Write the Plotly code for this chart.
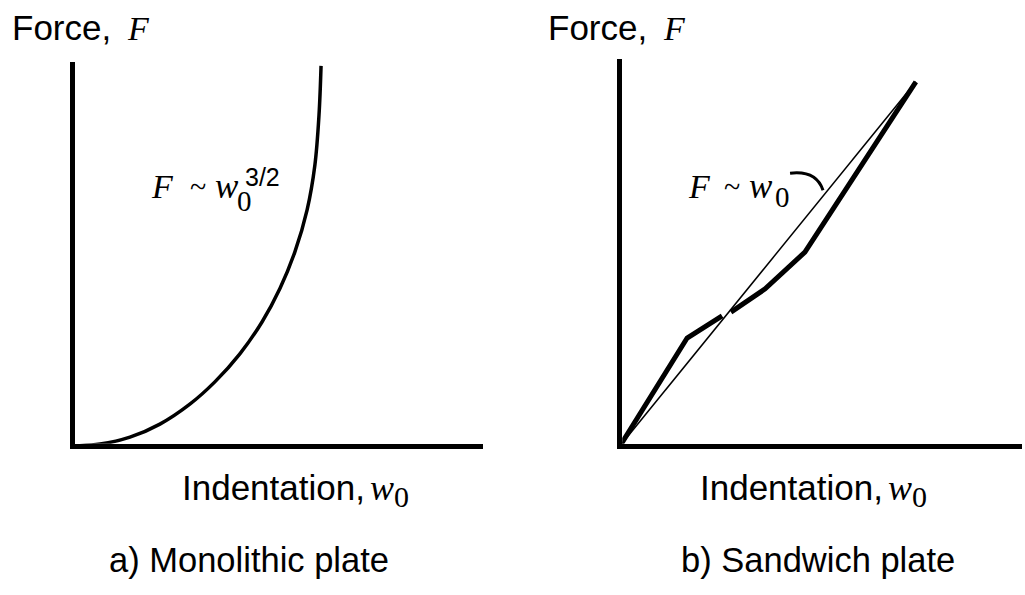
import plotly.graph_objects as go

W, H = 1025, 595

# ---- data (arbitrary units, 0..10 on both axes) ----
# a) monolithic plate: force grows ~ w0^(3/2)
mono_w = [0, 0.66, 1.39, 2.12, 2.85, 3.46, 4.07, 4.61, 5.05, 5.41, 5.71, 5.90, 6.00, 6.05]
mono_F = [0, 0.05, 0.23, 0.57, 1.09, 1.67, 2.40, 3.23, 4.11, 5.05, 6.15, 7.32, 8.62, 9.90]

# b) sandwich plate: measured response (broken where the reference line crosses)
sand_w = [0, 1.67, 2.54, None, 2.76, 3.61, 4.60, 7.36]
sand_F = [0, 2.79, 3.36, None, 3.46, 4.06, 5.01, 9.41]

# linear reference F ~ w0
lin_w = [0, 7.36]
lin_F = [0, 9.41]

SANS = "Liberation Sans, Arial, Helvetica, sans-serif"
SERIF = "Liberation Serif, Times New Roman, serif"
AXIS_LW = 4.5


def frame(x0, x1, y0, y1, lw=AXIS_LW):
    """Axis placement from the pixel positions of the axis lines
    (x0: vertical line, y0: horizontal line, x1/y1: line ends)."""
    left = x0 + lw / 2
    bottom = y0 - lw / 2
    sx = (x1 - x0) / 10.0
    sy = (y0 - y1) / 10.0
    xa = dict(domain=[left / W, x1 / W], range=[(lw / 2) / sx, 10],
              showline=True, linewidth=lw, linecolor="black",
              showgrid=False, zeroline=False, showticklabels=False, ticks="")
    ya = dict(domain=[1 - bottom / H, 1 - y1 / H], range=[(lw / 2) / sy, 10],
              showline=True, linewidth=lw, linecolor="black",
              showgrid=False, zeroline=False, showticklabels=False, ticks="")
    return xa, ya


xa1, ya1 = frame(73, 483, 446, 62)
xa2, ya2 = frame(620, 1022, 446, 59)
ya1["anchor"] = "x"
xa1["anchor"] = "y"
xa2["anchor"] = "y2"
ya2["anchor"] = "x2"

fig = go.Figure()

fig.add_trace(go.Scatter(x=mono_w, y=mono_F, mode="lines",
                         line=dict(color="black", width=3.5, shape="spline", smoothing=1.0),
                         cliponaxis=False, xaxis="x", yaxis="y", hoverinfo="skip"))
fig.add_trace(go.Scatter(x=lin_w, y=lin_F, mode="lines",
                         line=dict(color="black", width=1.5),
                         cliponaxis=False, xaxis="x2", yaxis="y2", hoverinfo="skip"))
fig.add_trace(go.Scatter(x=sand_w, y=sand_F, mode="lines", connectgaps=False,
                         line=dict(color="black", width=5),
                         cliponaxis=False, xaxis="x2", yaxis="y2", hoverinfo="skip"))

annotations = []


def text(x, baseline, s, size, family=SANS):
    """Place a text run by its left edge and baseline (pixels)."""
    k = 0.3465 if family == SANS else 0.3375
    annotations.append(dict(
        x=(x - 2) / W, y=1 - (baseline - k * size) / H, xref="paper", yref="paper",
        xanchor="left", yanchor="middle", text=s, showarrow=False,
        font=dict(family=family, size=size, color="black")))


# axis titles
for x0, xf in [(12, 127), (548, 663)]:
    text(x0, 40, "Force,", 35)
    text(xf, 40, "<i>F</i>", 34, SERIF)

for x0 in [182, 700]:
    text(x0, 500, "Indentation,", 35)
    text(x0 + 188, 500, "<i>w</i>", 36, SERIF)
    text(x0 + 212, 507, "0", 30, SERIF)

# panel captions
text(109, 572, "a) Monolithic plate", 34.5)
text(681, 572, "b) Sandwich plate", 34.5)

# curve labels
text(151, 198, "<i>F</i>", 34, SERIF)
text(190, 197, "~", 30, SERIF)
text(215, 198, "<i>w</i>", 35, SERIF)
text(237, 211, "0", 29, SERIF)
text(245, 186, "3/2", 25)

text(688, 198, "<i>F</i>", 34, SERIF)
text(724, 197, "~", 30, SERIF)
text(749, 198, "<i>w</i>", 35, SERIF)
text(775, 207, "0", 29, SERIF)

# leader arc from the label to the linear reference
shapes = [dict(type="path", xref="x2", yref="y2",
               path="M 4.23,7.05 Q 4.88,7.13 5.05,6.61",
               line=dict(color="black", width=3))]

fig.update_layout(
    width=W, height=H, margin=dict(l=0, r=0, t=0, b=0),
    paper_bgcolor="white", plot_bgcolor="white",
    showlegend=False,
    xaxis=xa1, yaxis=ya1, xaxis2=xa2, yaxis2=ya2,
    annotations=annotations, shapes=shapes,
)

fig.write_html("out.html")
